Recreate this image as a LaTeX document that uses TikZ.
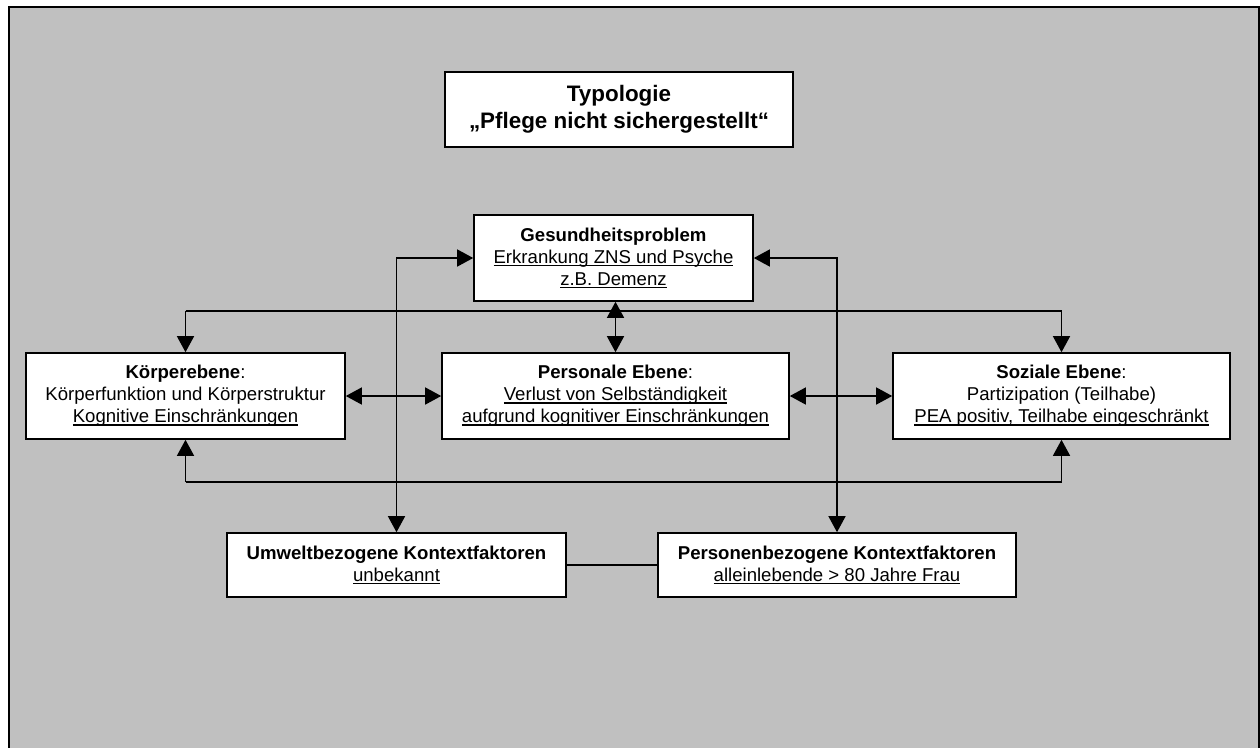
\documentclass[tikz,border=0pt]{standalone}
\usepackage{fontspec}
\setmainfont{Liberation Sans}
\usetikzlibrary{arrows.meta}
\definecolor{bg}{RGB}{192,192,192}
\newcommand{\myul}[1]{\setbox0\hbox{#1}\rlap{\rule[-2.8pt]{\wd0}{1.5pt}}\box0}
\begin{document}
\begin{tikzpicture}[x=1pt,y=-1pt,
  box/.style={draw=black, line width=1.6pt, fill=white, rectangle, inner sep=0pt, align=center, font=\fontsize{18.6}{22}\selectfont},
  conn/.style={line width=1.4pt},
  tip/.style={-{Triangle[length=16pt,width=17pt]}},
  both/.style={{Triangle[length=16pt,width=17pt]}-{Triangle[length=16pt,width=17pt]}}]
\fill[white] (0,0) rectangle (1260,747);
\clip (0,0) rectangle (1260,747);
\draw[fill=bg, line width=2pt] (8.5,7) rectangle (1258.5,800);

\node[box, minimum width=348pt, minimum height=75pt, font=\bfseries\fontsize{22.4}{27}\selectfont] (T) at (619,109.5) {Typologie\\„Pflege nicht sichergestellt“};
\node[box, minimum width=279pt, minimum height=86pt] (G) at (613.5,258) {\textbf{Gesundheitsproblem}\\\myul{Erkrankung ZNS und Psyche}\\\myul{z.B. Demenz}};
\node[box, minimum width=319pt, minimum height=86pt] (K) at (185.5,396) {\textbf{Körperebene}:\\Körperfunktion und Körperstruktur\\\myul{Kognitive Einschränkungen}};
\node[box, minimum width=347pt, minimum height=86pt] (P) at (615.5,396) {\textbf{Personale Ebene}:\\\myul{Verlust von Selbständigkeit}\\\myul{aufgrund kognitiver Einschränkungen}};
\node[box, minimum width=337pt, minimum height=86pt] (S) at (1061.5,396) {\textbf{Soziale Ebene}:\\Partizipation (Teilhabe)\\\myul{PEA positiv, Teilhabe eingeschränkt}};
\node[box, minimum width=339pt, minimum height=64pt] (U) at (396.5,565) {\textbf{Umweltbezogene Kontextfaktoren}\\\myul{unbekannt}};
\node[box, minimum width=358pt, minimum height=64pt] (N) at (837,565) {\textbf{Personenbezogene Kontextfaktoren}\\\myul{alleinlebende > 80 Jahre Frau}};

\coordinate (bt) at (0,311);
\coordinate (bb) at (0,482);

\draw[conn] (K.north |- bt) -- (S.north |- bt);
\draw[conn,tip] (K.north |- bt) -- (K.north);
\draw[conn,tip] (S.north |- bt) -- (S.north);
\draw[conn,both] (P.north |- G.south) -- (P.north);
\draw[conn] (K.south |- bb) -- (S.south |- bb);
\draw[conn,tip] (K.south |- bb) -- (K.south);
\draw[conn,tip] (S.south |- bb) -- (S.south);
\draw[conn,both] (K.east) -- (P.west);
\draw[conn,both] (P.east) -- (S.west);
\draw[conn,both] (G.west) -- (G.west -| U.north) -- (U.north);
\draw[conn,both] (G.east) -- (G.east -| N.north) -- (N.north);
\draw[conn] (U.east) -- (N.west);
\end{tikzpicture}
\end{document}
